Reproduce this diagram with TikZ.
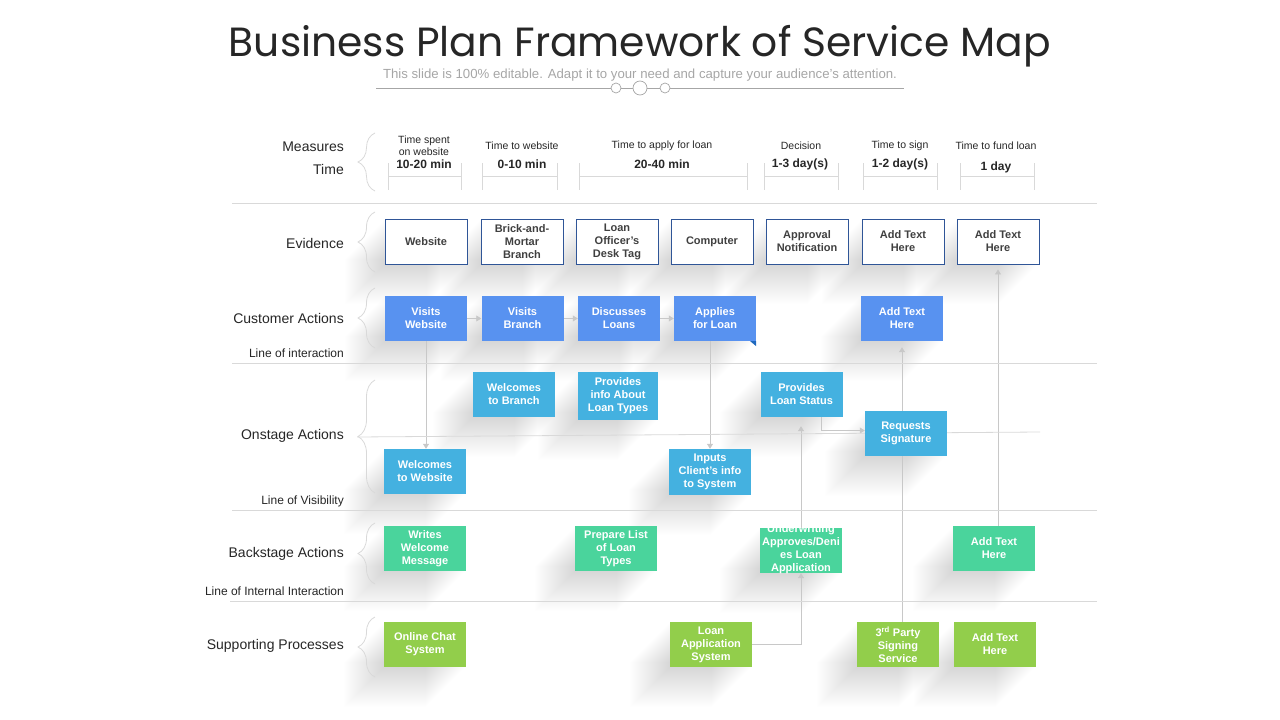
\documentclass[tikz,border=0pt]{standalone}
\usepackage{fontspec}
\setmainfont{Liberation Sans}
\newfontfamily\titlefont{Poppins}
\usetikzlibrary{arrows.meta,backgrounds,calc,decorations.pathreplacing}

\definecolor{evline}{RGB}{47,85,151}
\definecolor{evtext}{RGB}{64,64,64}
\definecolor{custblue}{RGB}{88,146,240}
\definecolor{onblue}{RGB}{68,177,224}
\definecolor{backgreen}{RGB}{74,212,156}
\definecolor{suplime}{RGB}{146,206,75}
\definecolor{fold}{RGB}{31,105,190}
\definecolor{rulegray}{RGB}{217,217,217}
\definecolor{conngray}{RGB}{200,200,200}
\definecolor{subgray}{RGB}{166,166,166}
\definecolor{titlegray}{RGB}{38,38,38}

\tikzset{
  card/.style={minimum width=82pt, minimum height=45pt, inner sep=1pt, align=center,
    font=\fontsize{11}{13}\selectfont\bfseries},
  ev/.style={card, draw=evline, line width=0.9pt, fill=white, text=evtext},
  cust/.style={card, fill=custblue, text=white},
  onst/.style={card, fill=onblue, text=white},
  back/.style={card, fill=backgreen, text=white},
  supp/.style={card, fill=suplime, text=white},
  lbl/.style={anchor=east, inner sep=0pt, text=titlegray, font=\fontsize{14}{16}\selectfont},
  linelbl/.style={anchor=east, inner sep=0pt, text=titlegray, font=\fontsize{12}{14}\selectfont},
  hdr/.style={inner sep=0pt, align=center, text=titlegray, font=\fontsize{10.5}{12}\selectfont},
  val/.style={inner sep=0pt, text=titlegray, font=\fontsize{12}{14}\selectfont\bfseries},
  dot/.style={circle, draw=subgray, fill=white, inner sep=0pt, line width=0.7pt},
  rule/.style={draw=rulegray, line width=0.8pt},
  tick/.style={draw=rulegray, line width=0.7pt},
  brc/.style={draw=rulegray, line width=0.8pt, decorate, decoration={brace, amplitude=17pt}},
  line/.style={draw=conngray, line width=0.8pt},
  arr/.style={line, -{Triangle[length=5pt,width=6pt]}}
}

\begin{document}
\begin{tikzpicture}[x=1pt,y=-1pt]
\useasboundingbox (0,0) rectangle (1280,720);

% heading
\node[inner sep=0pt, text=titlegray, font=\titlefont\fontsize{40.8}{46}\selectfont] (title) at (640,46) {Business Plan Framework of Service Map};
\node[inner sep=0pt, text=subgray, font=\fontsize{13.2}{15}\selectfont] (sub) at (640,75) {This slide is 100\% editable. Adapt it to your need and capture your audience’s attention.};
\coordinate (sl) at (376,88);
\coordinate (sr) at (904,88);
\node[dot, minimum size=10pt] (d1) at (616,88) {};
\node[dot, minimum size=14pt] (d2) at (640,88) {};
\node[dot, minimum size=10pt] (d3) at (665,88) {};
\draw[draw=subgray, line width=0.7pt] (sl) -- (d1) -- (d2) -- (d3) -- (sr);

% swimlane rules
\draw[rule] (232,203) -- (1097,203);
\draw[rule] (232,363) -- (1097,363);
\draw[rule] (232,510) -- (1097,510);
\draw[rule] (230,601) -- (1097,601);
\draw[rule] (357,437) -- (1040,432);

% row labels
\node[lbl] (l1) at (344,147) {Measures};
\node[lbl] (l2) at (344,169) {Time};
\node[lbl] (l3) at (344,243) {Evidence};
\node[lbl] (l4) at (344,318) {Customer Actions};
\node[linelbl] (i1) at (344,353) {Line of interaction};
\node[lbl] (l5) at (344,436) {Onstage Actions};
\node[linelbl] (i2) at (344,501) {Line of Visibility};
\node[lbl] (l6) at (344,554) {Backstage Actions};
\node[linelbl] (i3) at (344,591) {Line of Internal Interaction};
\node[lbl] (l7) at (344,646) {Supporting Processes};

% braces
\foreach \t/\b in {133/191,212/272,288/348,380/493,523/584,617/677}
  \draw[brc] (375,\b) -- (375,\t);

% measures
\foreach \a/\b in {388/461,482/557,579/747,764/838,863/937,960/1034}
  \draw[tick] (\a,163) -- (\a,190) (\b,163) -- (\b,190) (\a,176) -- (\b,176);
\node[hdr] (m1) at (424,146) {Time spent\\on website};
\node[hdr] (m2) at (522,146) {Time to website};
\node[hdr] (m3) at (662,146) {Time to apply for loan};
\node[hdr] (m4) at (801,146) {Decision};
\node[hdr] (m5) at (900,146) {Time to sign};
\node[hdr] (m6) at (996,146) {Time to fund loan};
\node[val] (v1) at (424,164) {10-20 min};
\node[val] (v2) at (522,164) {0-10 min};
\node[val] (v3) at (662,164) {20-40 min};
\node[val] (v4) at (800,164) {1-3 day(s)};
\node[val] (v5) at (900,164) {1-2 day(s)};
\node[val] (v6) at (996,167) {1 day};

% evidence
\node[ev] (ev1) at (426,241.5) {Website};
\node[ev] (ev2) at (522,241.5) {Brick-and-\\Mortar\\Branch};
\node[ev] (ev3) at (617,241.5) {Loan\\Officer’s\\Desk Tag};
\node[ev] (ev4) at (712,241.5) {Computer};
\node[ev] (ev5) at (807,241.5) {Approval\\Notification};
\node[ev] (ev6) at (903,241.5) {Add Text\\Here};
\node[ev] (ev7) at (998,241.5) {Add Text\\Here};

% customer actions
\node[cust] (ca1) at (426,318.5) {Visits\\Website};
\node[cust] (ca2) at (522.5,318.5) {Visits\\Branch};
\node[cust] (ca3) at (619,318.5) {Discusses\\Loans};
\node[cust] (ca4) at (715,318.5) {Applies\\for Loan};
\node[cust] (ca5) at (902,318.5) {Add Text\\Here};
\fill[fold] (ca4.south east) -- ++(-6,0) -- ++(6,5) -- cycle;

% onstage actions
\node[onst] (os1) at (514,394.5) {Welcomes\\to Branch};
\node[onst, minimum width=80pt, minimum height=48pt] (os2) at (618,396) {Provides\\info About\\Loan Types};
\node[onst] (os3) at (801.5,394.5) {Provides\\Loan Status};
\node[onst] (os4) at (906,433.5) {Requests\\Signature};
\node[onst] (os5) at (425,471.5) {Welcomes\\to Website};
\node[onst, minimum height=46pt] (os6) at (710,472) {Inputs\\Client’s info\\to System};

% backstage actions
\node[back] (bs1) at (425,548.5) {Writes\\Welcome\\Message};
\node[back] (bs2) at (616,548.5) {Prepare List\\of Loan\\Types};
\node[back] (bs3) at (801,550.5) {\raisebox{-3pt}{\smash{\begin{tabular}{@{}c@{}}Underwriting\\Approves/Deni\\es Loan\\Application\end{tabular}}}};
\node[back] (bs4) at (994,548.5) {Add Text\\Here};

% supporting processes
\node[supp] (sp1) at (425,644.5) {Online Chat\\System};
\node[supp] (sp2) at (711,644.5) {Loan\\Application\\System};
\node[supp] (sp3) at (898,644.5) {3\textsuperscript{rd} Party\\Signing\\Service};
\node[supp] (sp4) at (995,644.5) {Add Text\\Here};

\begin{scope}[on background layer]
  % long shadows
  \foreach \n in {ev1,ev2,ev3,ev4,ev5,ev6,ev7,ca1,ca2,ca3,ca4,ca5,os1,os2,os3,os4,os5,os6,bs1,bs2,bs3,bs4,sp1,sp2,sp3,sp4}
    \foreach \i in {1,...,40}
      \fill[black, opacity=0.003] ([shift={(-\i,\i)}]\n.north west) rectangle ([shift={(-\i,\i)}]\n.south east);
  % flow
  \draw[arr] (ca1.east) -- (ca2.west);
  \draw[arr] (ca2.east) -- (ca3.west);
  \draw[arr] (ca3.east) -- (ca4.west);
  \draw[arr] (ca1.south) -- (ca1 |- os5.north);
  \draw[arr] (os6 |- ca4.south) -- (os6.north);
  \draw[arr] (sp2.east) -| (bs3.south);
  \draw[arr, shorten >=9pt] (bs3.north) -- (bs3 |- os3.south);
  \draw[arr] ([xshift=20pt]os3.south) |- ([yshift=3pt]os4.west);
  \draw[arr, shorten >=6pt] (ca5 |- sp3.north) -- (ca5.south);
  \draw[arr, shorten >=5pt] (ev7 |- bs4.north) -- (ev7.south);
\end{scope}
\end{tikzpicture}
\end{document}
